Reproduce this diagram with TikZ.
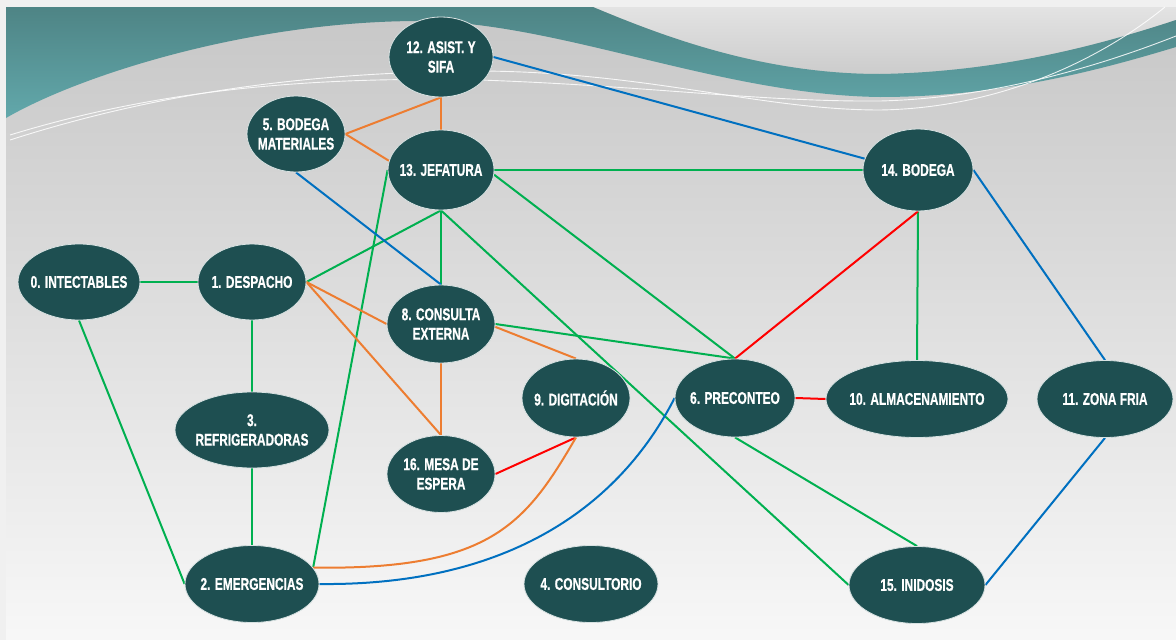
\documentclass[tikz,border=0pt]{standalone}
\usepackage{fontspec}
\setsansfont[FakeStretch=0.7, FakeBold=0.6]{Liberation Sans}
\usetikzlibrary{shapes.geometric}
\pgfdeclarelayer{back}
\pgfdeclarelayer{links}
\pgfsetlayers{back,links,main}

\definecolor{nodefill}{HTML}{1E4F51}
\definecolor{nodeedge}{HTML}{D8E2E2}
\definecolor{cgreen}{HTML}{00B050}
\definecolor{cred}{HTML}{FF0000}
\definecolor{corange}{HTML}{ED7D31}
\definecolor{cblue}{HTML}{0070C0}
\definecolor{tealdark}{HTML}{4E8485}
\definecolor{teallight}{HTML}{62A8AB}

\tikzset{
  nd/.style={ellipse, fill=nodefill, draw=nodeedge, line width=0.8pt, inner sep=0pt},
  lbl/.style={text=white, font=\sffamily\bfseries\fontsize{17}{19.5}\selectfont, align=center, inner sep=0pt},
  link/.style={line width=2pt},
  lg/.style={link, draw=cgreen},
  lr/.style={link, draw=cred},
  lo/.style={link, draw=corange},
  lb/.style={link, draw=cblue},
}

\begin{document}
\begin{tikzpicture}[x=1pt, y=-1pt]
\useasboundingbox (0,0) rectangle (1176,640);

% ---------- backdrop ----------
\begin{pgfonlayer}{back}
  \fill[white!94!black] (0,0) rectangle (1176,640);
  \shade[top color=white!78!black, bottom color=white!97!black] (6,7) rectangle (1176,640);
  % light area above the right-hand ribbon
  \shade[top color=white!89!black, bottom color=white!80!black]
    (593,7) -- (1176,7) -- (1176,20)
    .. controls (1100,45) and (1000,72) .. (880,74)
    .. controls (760,74) and (660,35) .. (593,7) -- cycle;
  % teal wave
  \shade[top color=tealdark, bottom color=teallight]
    (6,7) -- (593,7)
    .. controls (660,35) and (760,74) .. (880,74)
    .. controls (1000,72) and (1100,45) .. (1176,20)
    -- (1176,47)
    .. controls (1100,70) and (1000,97) .. (880,97)
    .. controls (720,95) and (560,22) .. (420,21)
    .. controls (250,21) and (80,75) .. (6,118) -- cycle;
  % thin white swoosh lines
  \draw[white, opacity=0.85, line width=0.9pt]
    (10,140) .. controls (150,95) and (300,72) .. (480,71)
    .. controls (650,72) and (760,110) .. (880,110)
    .. controls (1000,108) and (1100,60) .. (1165,7);
  \draw[white, opacity=0.85, line width=0.9pt]
    (10,135) .. controls (150,92) and (300,76) .. (480,80)
    .. controls (650,86) and (760,102) .. (880,101)
    .. controls (1000,98) and (1110,62) .. (1176,36);
\end{pgfonlayer}

% ---------- areas ----------
\node[nd, minimum width=104pt, minimum height=80pt, label={[lbl]center:{12. ASIST. Y\\SIFA}}] (n12) at (441,57) {};
\node[nd, minimum width=98pt, minimum height=76pt, label={[lbl]center:{5. BODEGA\\MATERIALES}}] (n5) at (296,134) {};
\node[nd, minimum width=106pt, minimum height=80pt, label={[lbl]center:{13. JEFATURA}}] (n13) at (441,170) {};
\node[nd, minimum width=110pt, minimum height=82pt, label={[lbl]center:{14. BODEGA}}] (n14) at (918,170) {};
\node[nd, minimum width=122pt, minimum height=76pt, label={[lbl]center:{0. INTECTABLES}}] (n0) at (79,282) {};
\node[nd, minimum width=108pt, minimum height=76pt, label={[lbl]center:{1. DESPACHO}}] (n1) at (252,282) {};
\node[nd, minimum width=108pt, minimum height=78pt, label={[lbl]center:{8. CONSULTA\\EXTERNA}}] (n8) at (441,324) {};
\node[nd, minimum width=108pt, minimum height=78pt, label={[lbl]center:{9. DIGITACIÓN}}] (n9) at (576,398) {};
\node[nd, minimum width=120pt, minimum height=78pt, label={[lbl]center:{6. PRECONTEO}}] (n6) at (735,398) {};
\node[nd, minimum width=182pt, minimum height=77pt, label={[lbl]center:{10. ALMACENAMIENTO}}] (n10) at (917,399) {};
\node[nd, minimum width=136pt, minimum height=77pt, label={[lbl]center:{11. ZONA FRIA}}] (n11) at (1105,399) {};
\node[nd, minimum width=154pt, minimum height=76pt, label={[lbl]center:{3.\\REFRIGERADORAS}}] (n3) at (252,430) {};
\node[nd, minimum width=108pt, minimum height=77pt, label={[lbl]center:{16. MESA DE\\ESPERA}}] (n16) at (441,474) {};
\node[nd, minimum width=134pt, minimum height=77pt, label={[lbl]center:{2. EMERGENCIAS}}] (n2) at (252,584) {};
\node[nd, minimum width=134pt, minimum height=77pt, label={[lbl]center:{4. CONSULTORIO}}] (n4) at (591,584) {};
\node[nd, minimum width=136pt, minimum height=77pt, label={[lbl]center:{15. INIDOSIS}}] (n15) at (917,585) {};

% ---------- relations ----------
\begin{pgfonlayer}{links}
  % green
  \draw[lg] (n0.east) -- (n1.west);
  \draw[lg] (n0.south) -- (n2.west);
  \draw[lg] (n1.south) -- (n3.north);
  \draw[lg] (n3.south) -- (n2.north);
  \draw[lg] (n1.east) -- (n13.south);
  \draw[lg] (n13.south) -- (n8.north);
  \draw[lg] (n13.west) -- (n2.15);
  \draw[lg] (n13.east) -- (n14.west);
  \draw[lg] (n13.-5) -- (n6.north);
  \draw[lg] (n13.south) -- (n15.west);
  \draw[lg] (n8.east) -- (n6.north);
  \draw[lg] (n14.south) -- (n10.north);
  \draw[lg] (n6.south) -- (n15.north);
  % red
  \draw[lr] (n14.south) -- (n6.north);
  \draw[lr] (n6.east) -- (n10.west);
  \draw[lr] (n16.east) -- (n9.south);
  % orange
  \draw[lo] (n5.east) -- (n12.south);
  \draw[lo] (n5.east) -- (n13.170);
  \draw[lo] (n12.south) -- (n13.north);
  \draw[lo] (n1.east) -- (n8.west);
  \draw[lo] (n1.east) -- (n16.north);
  \draw[lo] (n8.south) -- (n16.north);
  \draw[lo] (n8.-3) -- (n9.north);
  \draw[lo] (n2.15) .. controls (490,570) and (525,525) .. (n9.south);
  % blue
  \draw[lb] (n12.east) -- (n14.168);
  \draw[lb] (n5.south) -- (n8.north);
  \draw[lb] (n14.east) -- (n11.north);
  \draw[lb] (n11.south) -- (n15.east);
  \draw[lb] (n2.east) .. controls (510,586) and (620,505) .. (n6.west);
\end{pgfonlayer}
\end{tikzpicture}
\end{document}
